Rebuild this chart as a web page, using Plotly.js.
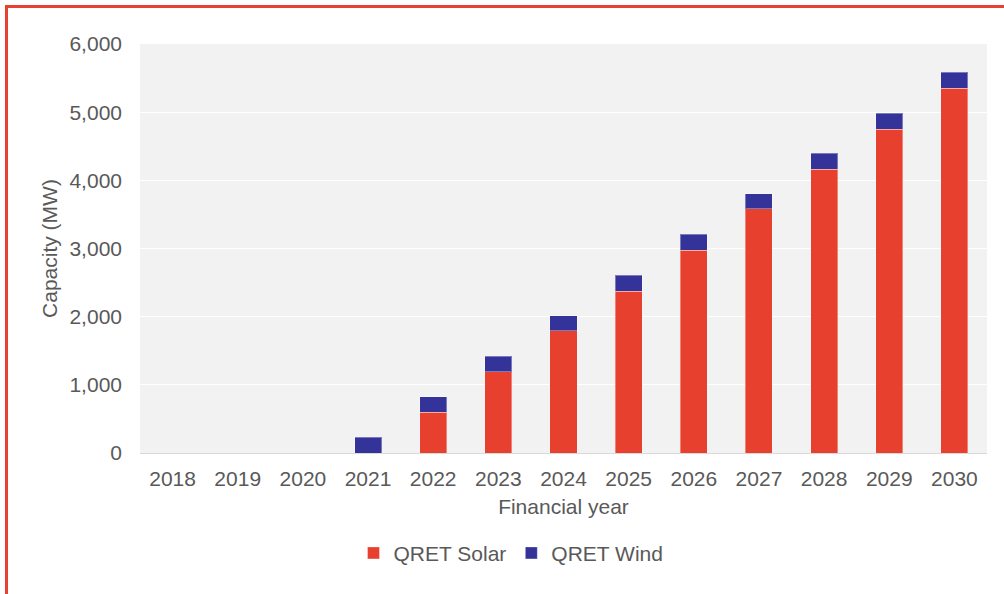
<!DOCTYPE html>
<html>
<head>
<meta charset="utf-8">
<script src="https://cdn.plot.ly/plotly-3.0.1.min.js"></script>
<style>
  body { margin: 0; background: #fff; }
  #wrap { position: relative; width: 1004px; height: 594px; overflow: hidden; }
  #frame { position: absolute; left: 5px; top: 5px; right: -10px; bottom: -10px;
           border-left: 3px solid #e8412f; border-top: 3px solid #e8412f; pointer-events: none; }
  #plot { position: absolute; left: 0; top: 0; }
</style>
</head>
<body>
<div id="wrap">
  <div id="plot"></div>
  <div id="frame"></div>
</div>
<script>
// financial years on the x axis
let years = ['2018', '2019', '2020', '2021', '2022', '2023', '2024',
             '2025', '2026', '2027', '2028', '2029', '2030'];

// capacity in MW
let solar = [0, 0, 0, 0, 600, 1190, 1790, 2375, 2975, 3580, 4165, 4750, 5350];
let wind = [0, 0, 0, 230, 225, 232, 225, 232, 232, 222, 235, 235, 235];

let tickVals = [0, 1000, 2000, 3000, 4000, 5000, 6000];

let solarTrace = {
    x: years,
    y: solar,
    type: 'bar',
    name: 'QRET Solar',
    marker: { color: '#e8402f', line: { color: 'rgba(255,255,255,0.35)', width: 1 } }
};

let windTrace = {
    x: years,
    y: wind,
    type: 'bar',
    name: 'QRET Wind',
    marker: { color: '#333399', line: { color: 'rgba(255,255,255,0.35)', width: 1 } }
};

let data = [solarTrace, windTrace];

let layout = {
    width: 1004,
    height: 594,
    barmode: 'stack',
    bargap: 0.585,
    paper_bgcolor: '#ffffff',
    plot_bgcolor: '#f2f2f2',
    font: { family: 'Liberation Sans, Arial, sans-serif', size: 21, color: '#595959' },
    margin: { l: 140, r: 17, t: 44, b: 141 },
    xaxis: {
        title: { text: 'Financial year', standoff: 10, font: { size: 21 } },
        tickmode: 'array',
        tickvals: years,
        showgrid: false,
        showline: true,
        linecolor: '#d9d9d9',
        linewidth: 1,
        ticks: '',
        ticklabelstandoff: 7,
        tickfont: { size: 21 }
    },
    yaxis: {
        title: { text: 'Capacity (MW)', standoff: 6, font: { size: 21 } },
        range: [0, 6000],
        tickvals: tickVals,
        tickformat: ',d',
        gridcolor: '#ffffff',
        gridwidth: 1,
        zeroline: false,
        ticks: '',
        ticklabelstandoff: 17,
        tickfont: { size: 21 }
    },
    legend: {
        orientation: 'h',
        x: 0.438,
        xanchor: 'center',
        y: -0.195,
        yanchor: 'top',
        traceorder: 'normal',
        font: { size: 21 }
    },
    showlegend: true
};

Plotly.newPlot('plot', data, layout, { displayModeBar: false, staticPlot: true });
</script>
</body>
</html>
